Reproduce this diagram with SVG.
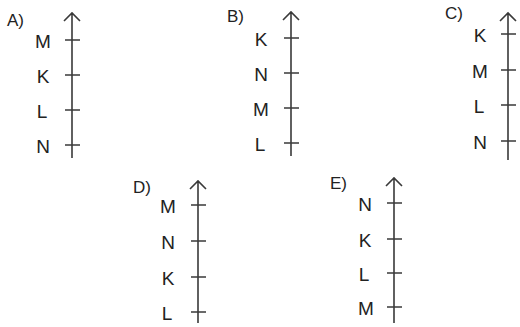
<svg xmlns="http://www.w3.org/2000/svg" width="520" height="327" viewBox="0 0 520 327">
<style>
.ax{stroke:#3a3a3a;stroke-width:1.6;fill:none}
.tk{stroke:#3a3a3a;stroke-width:1.5}
.lb{font-family:"Liberation Sans",Arial,sans-serif;font-size:19px;fill:#222;text-anchor:middle}
.op{font-family:"Liberation Sans",Arial,sans-serif;font-size:17px;fill:#222}
</style>
<rect width="520" height="327" fill="#fff"/>
<g id="A">
<text class="op" x="7" y="26">A)</text>
<path class="ax" d="M72,13 V158 M64,21 L72,13 L80,21"/>
<path class="tk" d="M65,40 H80 M65,75 H80 M65,110 H80 M65,145 H80"/>
<text class="lb" x="43" y="48">M</text>
<text class="lb" x="43" y="83">K</text>
<text class="lb" x="42" y="118">L</text>
<text class="lb" x="43" y="153">N</text>
</g>
<g id="B">
<text class="op" x="227" y="22">B)</text>
<path class="ax" d="M291,12 V156 M283,20 L291,12 L299,20"/>
<path class="tk" d="M284,38 H299 M284,73 H299 M284,108 H299 M284,143 H299"/>
<text class="lb" x="261" y="46">K</text>
<text class="lb" x="261" y="81">N</text>
<text class="lb" x="261" y="116">M</text>
<text class="lb" x="260" y="151">L</text>
</g>
<g id="C">
<text class="op" x="445" y="19">C)</text>
<path class="ax" d="M508,13 V160 M500,21 L508,13 L516,21"/>
<path class="tk" d="M501,34 H516 M501,70 H516 M501,105 H516 M501,141 H516"/>
<text class="lb" x="480" y="42">K</text>
<text class="lb" x="480" y="78">M</text>
<text class="lb" x="479" y="113">L</text>
<text class="lb" x="480" y="149">N</text>
</g>
<g id="D">
<text class="op" x="133" y="193">D)</text>
<path class="ax" d="M198,181 V323 M190,189 L198,181 L206,189"/>
<path class="tk" d="M191,205 H206 M191,241 H206 M191,277 H206 M191,312 H206"/>
<text class="lb" x="168" y="213">M</text>
<text class="lb" x="168" y="249">N</text>
<text class="lb" x="168" y="285">K</text>
<text class="lb" x="167" y="320">L</text>
</g>
<g id="E">
<text class="op" x="330" y="189">E)</text>
<path class="ax" d="M394,178 V323 M386,186 L394,178 L402,186"/>
<path class="tk" d="M387,203 H402 M387,239 H402 M387,273 H402 M387,307 H402"/>
<text class="lb" x="365" y="211">N</text>
<text class="lb" x="365" y="247">K</text>
<text class="lb" x="364" y="281">L</text>
<text class="lb" x="366" y="315">M</text>
</g>
</svg>
